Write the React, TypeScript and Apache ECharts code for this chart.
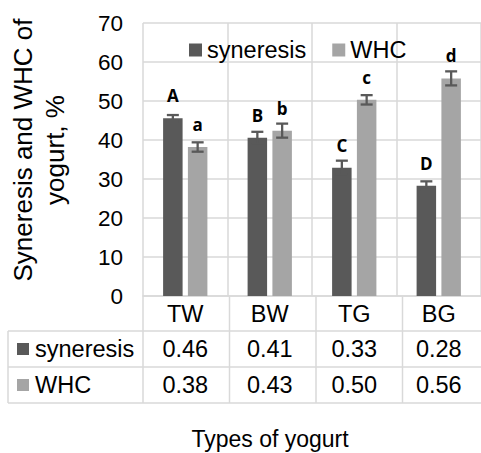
import React, { useEffect, useRef } from "react";
import * as echarts from "echarts";

const categories = ["TW", "BW", "TG", "BG"];
const syneresis = [45.6, 40.6, 32.9, 28.3];
const whc = [38.2, 42.4, 50.3, 55.8];
const syneresisErr = [0.8, 1.5, 1.8, 1.1];
const whcErr = [1.2, 1.8, 1.2, 1.8];
const syneresisLetters = ["A", "B", "C", "D"];
const whcLetters = ["a", "b", "c", "d"];
const syneresisTable = ["0.46", "0.41", "0.33", "0.28"];
const whcTable = ["0.38", "0.43", "0.50", "0.56"];
const yTicks = { min: 0, max: 70, interval: 10 };

const W = 481;
const H = 453;
const GRID_LEFT = 143;
const GRID_TOP = 23;
const GRID_W = 346;
const GRID_H = 273;
const HEADER_H = 35;
const ROW_H = 36;
const TABLE_LEFT = 8;
const BAR_W = 19.5;
const BAR_GAP = 5.3;
const C_SYN = "#595959";
const C_WHC = "#a5a5a5";
const LINE = "#d9d9d9";
const FONT = "Liberation Sans, Arial, sans-serif";
const TXT = 23.5;

export default function App() {
  const ref = useRef<HTMLDivElement>(null);
  useEffect(() => {
    if (!ref.current) return;
    const chart = echarts.init(ref.current, undefined, { renderer: "svg" });
    const catW = GRID_W / categories.length;
    const axisY = GRID_TOP + GRID_H;
    const tableBottom = axisY + HEADER_H + 2 * ROW_H;

    const errSeries = (vals: number[], errs: number[], offset: number) => ({
      type: "custom",
      silent: true,
      z: 5,
      data: vals.map((v, i) => [i, v - errs[i], v + errs[i]]),
      encode: { x: 0, y: [1, 2] },
      renderItem: (params: any, api: any) => {
        const x = api.coord([api.value(0), 0])[0] + offset;
        const yLo = api.coord([api.value(0), api.value(1)])[1];
        const yHi = api.coord([api.value(0), api.value(2)])[1];
        const cap = 6;
        const style = { stroke: C_SYN, lineWidth: 2.3, fill: "none" };
        return {
          type: "group",
          children: [
            { type: "line", shape: { x1: x, y1: yLo, x2: x, y2: yHi }, style },
            { type: "line", shape: { x1: x - cap, y1: yHi, x2: x + cap, y2: yHi }, style },
            { type: "line", shape: { x1: x - cap, y1: yLo, x2: x + cap, y2: yLo }, style },
          ],
        };
      },
    });

    const graphics: any[] = [];
    [axisY + HEADER_H, axisY + HEADER_H + ROW_H, tableBottom].forEach((y) => {
      graphics.push({
        type: "line",
        shape: { x1: TABLE_LEFT, y1: y, x2: GRID_LEFT + GRID_W, y2: y },
        style: { stroke: LINE, lineWidth: 1.5 },
        silent: true,
      });
    });
    graphics.push({
      type: "line",
      shape: { x1: TABLE_LEFT, y1: axisY + HEADER_H, x2: TABLE_LEFT, y2: tableBottom },
      style: { stroke: LINE, lineWidth: 1.5 },
      silent: true,
    });
    for (let i = 0; i <= categories.length; i++) {
      const x = GRID_LEFT + i * catW;
      graphics.push({
        type: "line",
        shape: { x1: x, y1: axisY, x2: x, y2: tableBottom },
        style: { stroke: LINE, lineWidth: 1.5 },
        silent: true,
      });
    }
    [
      { name: "syneresis", color: C_SYN },
      { name: "WHC", color: C_WHC },
    ].forEach((r, k) => {
      const cy = axisY + HEADER_H + ROW_H * k + ROW_H / 2;
      graphics.push({
        type: "rect",
        shape: { x: 17, y: cy - 6, width: 12, height: 12 },
        style: { fill: r.color },
      });
      graphics.push({
        type: "text",
        x: 35,
        y: cy,
        style: {
          text: r.name,
          fontSize: TXT,
          fontFamily: FONT,
          fill: "#000",
          verticalAlign: "middle",
          align: "left",
        },
      });
    });
    graphics.push({
      type: "text",
      x: 39,
      y: 150,
      rotation: Math.PI / 2,
      style: {
        text: "Syneresis and WHC of\nyogurt, %",
        fontSize: 26,
        lineHeight: 32,
        fontFamily: FONT,
        fill: "#000",
        align: "center",
        verticalAlign: "middle",
      },
    });
    graphics.push({
      type: "text",
      x: 270,
      y: 439,
      style: {
        text: "Types of yogurt",
        fontSize: 23,
        fontFamily: FONT,
        fill: "#000",
        align: "center",
        verticalAlign: "middle",
      },
    });

    const offset = BAR_W / 2 + BAR_GAP / 2;
    const letterLabel = (letters: string[]) => ({
      show: true,
      position: "top",
      distance: 14,
      formatter: (p: any) => letters[p.dataIndex],
      fontFamily: "Open Sans, sans-serif",
      fontWeight: "bold",
      fontSize: 17,
      color: "#000",
    });

    chart.setOption({
      animation: false,
      backgroundColor: "#fff",
      textStyle: { fontFamily: FONT },
      grid: { left: GRID_LEFT, top: GRID_TOP, width: GRID_W, height: GRID_H, containLabel: false },
      legend: {
        data: ["syneresis", "WHC"],
        left: 189,
        top: 38,
        padding: 0,
        icon: "rect",
        itemWidth: 13,
        itemHeight: 13,
        itemGap: 26,
        textStyle: { fontSize: TXT, color: "#000", fontFamily: FONT },
      },
      xAxis: {
        type: "category",
        data: categories,
        axisLine: { show: true, lineStyle: { color: LINE, width: 1.5 } },
        axisTick: { show: false },
        splitLine: { show: true, lineStyle: { color: LINE, width: 1.5 } },
        axisLabel: {
          interval: 0,
          margin: 0,
          formatter: (v: string, i: number) =>
            `{h|${v}}\n{v|${syneresisTable[i]}}\n{v|${whcTable[i]}}`,
          rich: {
            h: { fontSize: TXT, lineHeight: HEADER_H, color: "#000", fontFamily: FONT },
            v: { fontSize: TXT, lineHeight: ROW_H, color: "#000", fontFamily: FONT },
          },
        },
      },
      yAxis: {
        type: "value",
        min: yTicks.min,
        max: yTicks.max,
        interval: yTicks.interval,
        axisLine: { show: false },
        axisTick: { show: false },
        splitLine: { show: true, lineStyle: { color: LINE, width: 1.5 } },
        axisLabel: { fontSize: 22.5, color: "#000", margin: 20, fontFamily: FONT },
      },
      graphic: graphics,
      series: [
        {
          name: "syneresis",
          type: "bar",
          data: syneresis,
          barWidth: BAR_W,
          barGap: `${(BAR_GAP / BAR_W) * 100}%`,
          itemStyle: { color: C_SYN },
          label: letterLabel(syneresisLetters),
          z: 3,
        },
        {
          name: "WHC",
          type: "bar",
          data: whc,
          barWidth: BAR_W,
          barGap: `${(BAR_GAP / BAR_W) * 100}%`,
          itemStyle: { color: C_WHC },
          label: letterLabel(whcLetters),
          z: 3,
        },
        errSeries(syneresis, syneresisErr, -offset),
        errSeries(whc, whcErr, offset),
      ],
    });
    return () => chart.dispose();
  }, []);
  return (
    <div
      ref={ref}
      style={{ position: "fixed", left: 0, top: 0, width: W, height: H, overflow: "hidden" }}
    />
  );
}
